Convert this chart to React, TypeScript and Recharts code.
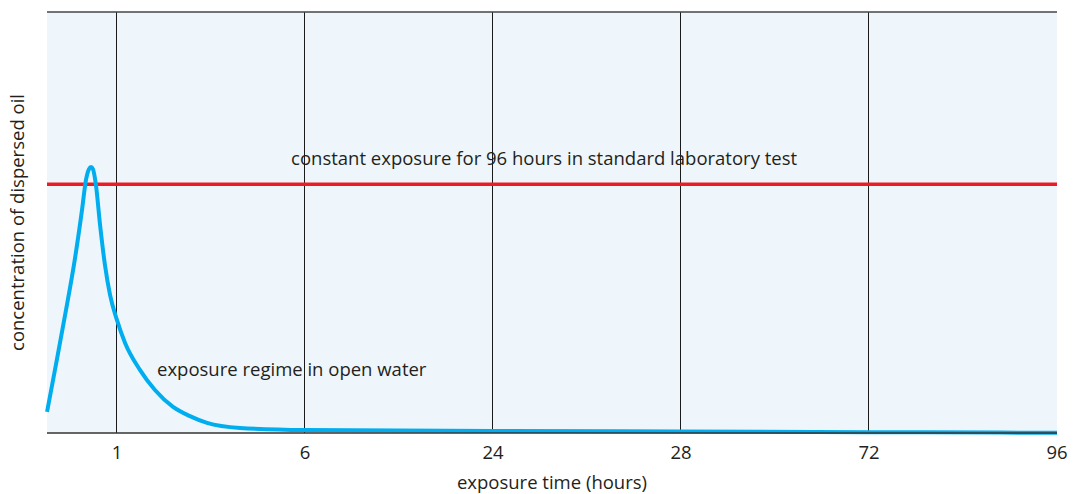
import {
  ComposedChart,
  Line,
  XAxis,
  YAxis,
  CartesianGrid,
  ReferenceLine,
  ReferenceDot,
} from "recharts";

// x is the position of each labelled tick (0 = "1 h", 5 = "96 h"); the axis is not linear
const TICK_POS = [0, 1, 2, 3, 4, 5];
const TICK_LABELS = ["1", "6", "24", "28", "72", "96"];

// open-water exposure curve
const CURVE_X = [
  -0.372, -0.33, -0.277, -0.223, -0.186, -0.165, -0.149, -0.138, -0.128, -0.112,
  -0.09, -0.064, -0.037, 0, 0.043, 0.122, 0.202, 0.298, 0.388, 0.479, 0.654, 1, 2,
  3, 4, 4.7, 5,
];
const CURVE_Y = [
  5.0, 15.0, 27.8, 41.6, 53.0, 60.1, 62.7, 63.2, 62.7, 58.9, 49.4, 39.9, 32.8,
  26.8, 21.4, 15.0, 10.2, 6.2, 4.0, 2.4, 1.2, 0.7, 0.5, 0.35, 0.2, 0.1, 0.05,
];

const LAB_LEVEL = 59.1;

const data = CURVE_X.map((x, i) => ({ x, y: CURVE_Y[i] }));

const FONT = "'Open Sans', sans-serif";
const INK = "#231f20";
const SIZE = 18.5;

const note = (text: string) => (props: any) => {
  const { viewBox } = props;
  return (
    <text
      x={viewBox.x}
      y={viewBox.y}
      dy="0.35em"
      textAnchor="start"
      fontFamily={FONT}
      fontSize={SIZE}
      fill={INK}
    >
      {text}
    </text>
  );
};

export default function App() {
  return (
    <div style={{ position: "absolute", left: 0, top: 0 }}>
      <ComposedChart
        width={1082}
        height={494}
        data={data}
        margin={{ top: 12, right: 25, bottom: 0, left: 0 }}
      >
        <CartesianGrid
          horizontal={false}
          vertical={false}
          fill="#eef6fc"
          stroke="none"
        />
        <XAxis
          dataKey="x"
          type="number"
          domain={[-0.3723, 5]}
          ticks={TICK_POS}
          tickFormatter={(v: number) => TICK_LABELS[TICK_POS.indexOf(v)]}
          tickLine={false}
          axisLine={{ stroke: "#333", strokeWidth: 1.5 }}
          tick={{ fill: INK, fontSize: SIZE, fontFamily: FONT }}
          tickMargin={7}
          height={61}
          label={{
            value: "exposure time (hours)",
            position: "insideBottom",
            offset: 5,
            fill: INK,
            fontSize: SIZE,
            fontFamily: FONT,
          }}
        />
        <YAxis
          type="number"
          domain={[0, 100]}
          width={47}
          tick={false}
          tickLine={false}
          axisLine={false}
          label={{
            value: "concentration of dispersed oil",
            angle: -90,
            position: "insideLeft",
            offset: 17,
            fill: INK,
            fontSize: SIZE,
            fontFamily: FONT,
            style: { textAnchor: "middle" },
          }}
        />
        <ReferenceDot x={0.926} y={65.3} r={0} label={note("constant exposure for 96 hours in standard laboratory test")} />
        <ReferenceDot x={0.213} y={15.0} r={0} label={note("exposure regime in open water")} />
        {TICK_POS.slice(0, 5).map((p) => (
          <ReferenceLine
            key={p}
            x={p}
            stroke="#1a1a1a"
            strokeWidth={1}
            shapeRendering="crispEdges"
          />
        ))}
        <ReferenceLine y={100} stroke="#444" strokeWidth={1.5} />
        <ReferenceLine y={LAB_LEVEL} stroke="#ed1c24" strokeWidth={3.5} />
        <Line
          type="monotone"
          dataKey="y"
          stroke="#00aeef"
          strokeWidth={4}
          dot={false}
          isAnimationActive={false}
        />
      </ComposedChart>
    </div>
  );
}
